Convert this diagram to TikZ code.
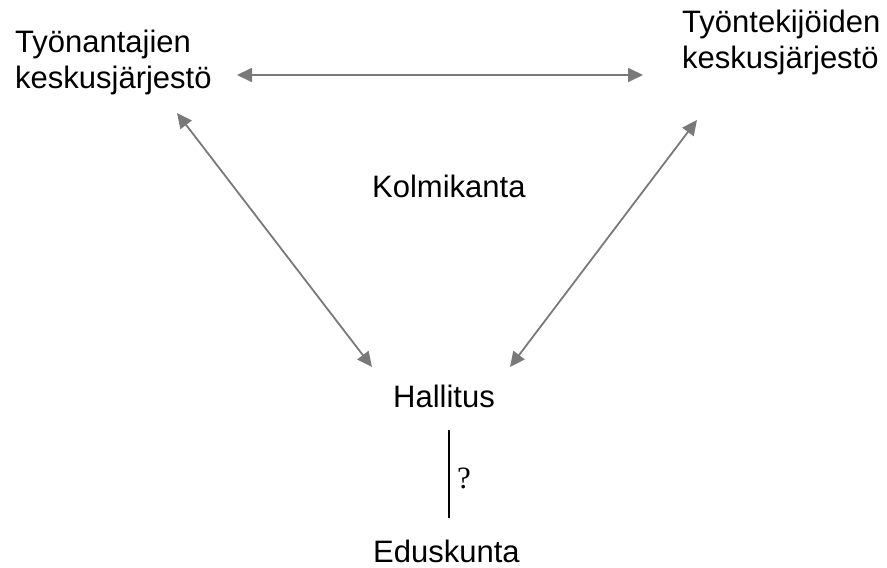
\documentclass[tikz,border=0pt]{standalone}
\usepackage{fontspec}
\setsansfont{Liberation Sans}
\newfontfamily\qfont{Liberation Serif}
\usetikzlibrary{arrows.meta}
\begin{document}
\begin{tikzpicture}[x=1pt,y=-1pt,
  lbl/.style={inner sep=0pt,anchor=base west,font=\sffamily\fontsize{31}{36}\selectfont},
  conn/.style={draw=gray!95!black,line width=1.8pt,{Triangle[length=15pt,width=14pt]}-{Triangle[length=15pt,width=14pt]}},
  plain/.style={draw=black,line width=1.8pt}]
\useasboundingbox (0,0) rectangle (887,568);
\node[lbl] (emp) at (15,52) {\begin{tabular}[t]{@{}l@{}}Työnantajien\\keskusjärjestö\end{tabular}};
\node[lbl] (wrk) at (682,32) {\begin{tabular}[t]{@{}l@{}}Työntekijöiden\\keskusjärjestö\end{tabular}};
\node[lbl] (kol) at (372,197) {Kolmikanta};
\node[lbl] (hal) at (393,407) {Hallitus};
\node[lbl] (edu) at (373,562) {Eduskunta};
\coordinate (empE) at (237,75);
\coordinate (wrkW) at (643,75);
\coordinate (empS) at (177,113);
\coordinate (halNW) at (372,367);
\coordinate (wrkS) at (697,120);
\coordinate (halNE) at (510,367);
\coordinate (halS) at (449,430);
\coordinate (eduN) at (449,518);
\draw[conn] (empE) -- (wrkW);
\draw[conn] (empS) -- (halNW);
\draw[conn] (wrkS) -- (halNE);
\draw[plain] (halS) -- (eduN);
\node[inner sep=0pt,anchor=base west,font=\qfont\fontsize{31}{36}\selectfont] (q) at (457,488) {?};
\end{tikzpicture}
\end{document}
